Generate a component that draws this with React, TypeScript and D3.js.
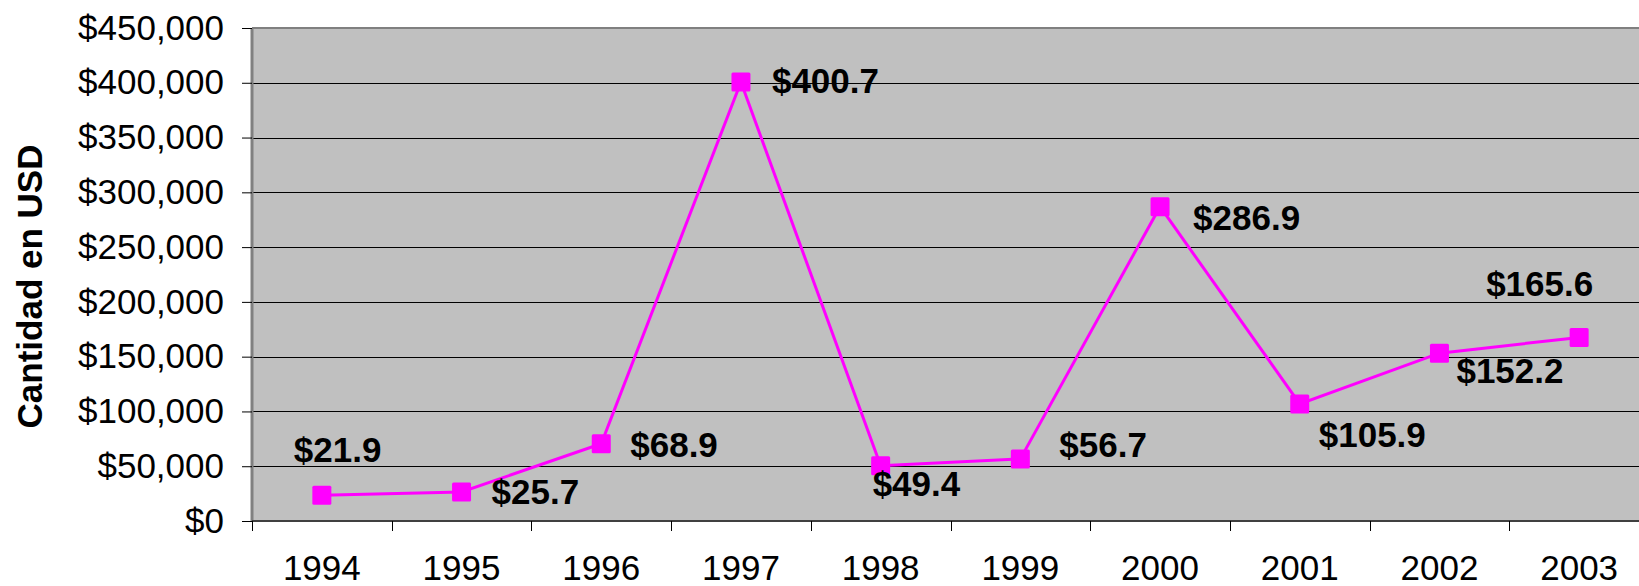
import { useEffect, useRef } from "react";
import * as d3 from "d3";

const years = ["1994", "1995", "1996", "1997", "1998", "1999", "2000", "2001", "2002", "2003"];
const amounts = [23500, 26500, 70500, 400700, 50500, 56700, 286900, 106900, 153200, 167600];
const valueLabels = ["$21.9", "$25.7", "$68.9", "$400.7", "$49.4", "$56.7", "$286.9", "$105.9", "$152.2", "$165.6"];
const yTicks = [0, 50000, 100000, 150000, 200000, 250000, 300000, 350000, 400000, 450000];

// label offsets from the marker (text start, baseline), placed by hand like the original
const labelDx = [-28, 30, 29, 31, -8, 39, 33, 19, 17, -93];
const labelDy = [-33, 12, 13, 11, 30, -2, 23, 43, 30, -41];

export default function App() {
  const ref = useRef<SVGSVGElement>(null);

  useEffect(() => {
    if (!ref.current) return;
    const width = 1639;
    const height = 586;
    const plot = { left: 252, top: 28, right: 1649, bottom: 521 };

    const svg = d3.select(ref.current);
    svg.selectAll("*").remove();
    svg.attr("width", width).attr("height", height);

    const x = d3.scaleBand().domain(years).range([plot.left, plot.right]);
    const y = d3.scaleLinear().domain([0, 450000]).range([plot.bottom, plot.top]);
    const font = "'Liberation Sans', Arial, sans-serif";

    svg.append("rect")
      .attr("x", plot.left)
      .attr("y", plot.top)
      .attr("width", plot.right - plot.left)
      .attr("height", plot.bottom - plot.top)
      .attr("fill", "#c0c0c0");

    // gridlines
    svg.append("g")
      .selectAll("line")
      .data(yTicks.filter((t) => t > 0 && t < 450000))
      .enter()
      .append("line")
      .attr("x1", plot.left)
      .attr("x2", plot.right)
      .attr("y1", (d) => Math.round(y(d)) + 0.5)
      .attr("y2", (d) => Math.round(y(d)) + 0.5)
      .attr("stroke", "#000")
      .attr("stroke-width", 1);

    // plot border (top + left)
    svg.append("line")
      .attr("x1", plot.left).attr("x2", plot.right)
      .attr("y1", plot.top).attr("y2", plot.top)
      .attr("stroke", "#808080").attr("stroke-width", 2);
    svg.append("line")
      .attr("x1", plot.left).attr("x2", plot.left)
      .attr("y1", plot.top).attr("y2", plot.bottom)
      .attr("stroke", "#808080").attr("stroke-width", 3);

    // y axis
    const yAxis = svg.append("g")
      .attr("transform", `translate(${plot.left},0)`)
      .call(
        d3.axisLeft(y)
          .tickValues(yTicks)
          .tickSize(10)
          .tickPadding(18)
          .tickFormat((d) => "$" + d3.format(",")(d as number))
      );
    yAxis.select(".domain").remove();
    yAxis.selectAll("line").attr("stroke", "#000");
    yAxis.selectAll("text")
      .attr("font-family", font)
      .attr("font-size", "35px")
      .attr("fill", "#000");

    // x axis
    svg.append("line")
      .attr("x1", plot.left).attr("x2", plot.right)
      .attr("y1", plot.bottom).attr("y2", plot.bottom)
      .attr("stroke", "#404040").attr("stroke-width", 2);
    svg.append("g")
      .selectAll("line")
      .data(years)
      .enter()
      .append("line")
      .attr("x1", (d) => Math.round(x(d)!) + 0.5)
      .attr("x2", (d) => Math.round(x(d)!) + 0.5)
      .attr("y1", plot.bottom)
      .attr("y2", plot.bottom + 10)
      .attr("stroke", "#000");
    svg.append("g")
      .selectAll("text")
      .data(years)
      .enter()
      .append("text")
      .attr("x", (d) => x(d)! + x.bandwidth() / 2)
      .attr("y", 580)
      .attr("text-anchor", "middle")
      .attr("font-family", font)
      .attr("font-size", "35px")
      .text((d) => d);

    // y title
    svg.append("text")
      .attr("transform", `translate(42,${(plot.top + plot.bottom) / 2 + 12}) rotate(-90)`)
      .attr("text-anchor", "middle")
      .attr("font-family", font)
      .attr("font-weight", "bold")
      .attr("font-size", "35px")
      .text("Cantidad en USD");

    const pts = years.map((yr, i) => ({
      cx: x(yr)! + x.bandwidth() / 2,
      cy: y(amounts[i]),
      label: valueLabels[i],
      i,
    }));

    const line = d3.line<{ cx: number; cy: number }>().x((d) => d.cx).y((d) => d.cy);
    svg.append("path")
      .datum(pts)
      .attr("d", line)
      .attr("fill", "none")
      .attr("stroke", "#ff00ff")
      .attr("stroke-width", 3);

    svg.append("g")
      .selectAll("rect")
      .data(pts)
      .enter()
      .append("rect")
      .attr("x", (d) => d.cx - 9.5)
      .attr("y", (d) => d.cy - 9.5)
      .attr("width", 19)
      .attr("height", 19)
      .attr("rx", 1.5)
      .attr("fill", "#ff00ff");

    svg.append("g")
      .selectAll("text")
      .data(pts)
      .enter()
      .append("text")
      .attr("x", (d) => d.cx + labelDx[d.i])
      .attr("y", (d) => d.cy + labelDy[d.i])
      .attr("font-family", font)
      .attr("font-weight", "bold")
      .attr("font-size", "35px")
      .attr("fill", "#000")
      .text((d) => d.label);
  }, []);

  return (
    <svg
      ref={ref}
      style={{ position: "absolute", left: 0, top: 0, display: "block", background: "#fff" }}
    />
  );
}
